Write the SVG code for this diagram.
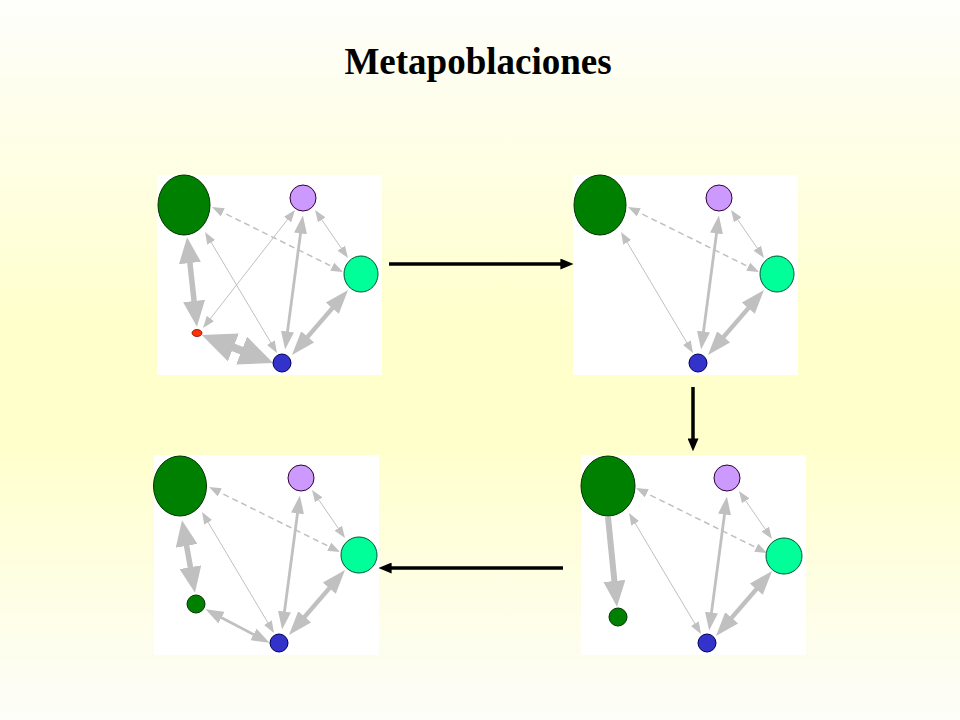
<svg xmlns="http://www.w3.org/2000/svg" width="960" height="720" viewBox="0 0 960 720">
<defs>
<linearGradient id="bg" x1="0" y1="0" x2="0" y2="1">
<stop offset="0" stop-color="#fefefc"/>
<stop offset="0.45" stop-color="#ffffcc"/>
<stop offset="0.62" stop-color="#ffffcc"/>
<stop offset="1" stop-color="#fdfdfa"/>
</linearGradient>
<marker id="ms" viewBox="0 0 10 10" refX="5" refY="5" markerUnits="userSpaceOnUse" markerWidth="12" markerHeight="9" preserveAspectRatio="none" orient="auto-start-reverse"><path d="M0,0 L10,5 L0,10 z" fill="#c0c0c0"/></marker>
<marker id="mm" viewBox="0 0 10 10" refX="5" refY="5" markerUnits="userSpaceOnUse" markerWidth="18" markerHeight="13" preserveAspectRatio="none" orient="auto-start-reverse"><path d="M0,0 L10,5 L0,10 z" fill="#c0c0c0"/></marker>
<marker id="ml" viewBox="0 0 10 10" refX="5" refY="5" markerUnits="userSpaceOnUse" markerWidth="24" markerHeight="17" preserveAspectRatio="none" orient="auto-start-reverse"><path d="M0,0 L10,5 L0,10 z" fill="#c0c0c0"/></marker>
<marker id="mx" viewBox="0 0 10 10" refX="5" refY="5" markerUnits="userSpaceOnUse" markerWidth="26" markerHeight="22" preserveAspectRatio="none" orient="auto-start-reverse"><path d="M0,0 L10,5 L0,10 z" fill="#c0c0c0"/></marker>
<marker id="mxx" viewBox="0 0 10 10" refX="5" refY="5" markerUnits="userSpaceOnUse" markerWidth="34" markerHeight="30" preserveAspectRatio="none" orient="auto-start-reverse"><path d="M0,0 L10,5 L0,10 z" fill="#c0c0c0"/></marker>
<marker id="mb" viewBox="0 0 10 10" refX="2" refY="5" markerUnits="userSpaceOnUse" markerWidth="13" markerHeight="11" preserveAspectRatio="none" orient="auto"><path d="M0,0 L10,5 L0,10 z" fill="#000"/></marker>
</defs>
<style>
.panel{fill:#ffffff;}
.e{stroke:#c0c0c0;fill:none;}
.s{stroke-width:1;marker-start:url(#ms);marker-end:url(#ms);}
.d{stroke-width:1.5;stroke-dasharray:6,4;marker-start:url(#ms);marker-end:url(#ms);}
.m{stroke-width:2.8;marker-start:url(#mm);marker-end:url(#mm);}
.l{stroke-width:4.5;marker-start:url(#ml);marker-end:url(#ml);}
.x{stroke-width:5.5;marker-start:url(#mx);marker-end:url(#mx);}
.xx{stroke-width:8;marker-start:url(#mxx);marker-end:url(#mxx);}
.one{stroke-width:6;marker-end:url(#mx);}
.big{fill:#008000;stroke:#003300;stroke-width:1;}
.pur{fill:#cc99ff;stroke:#330033;stroke-width:1;}
.teal{fill:#00ff99;stroke:#005533;stroke-width:1;}
.blue{fill:#3333cc;stroke:#000055;stroke-width:1;}
.red{fill:#ff3300;stroke:#880000;stroke-width:0.8;}
.sg{fill:#008000;stroke:#003300;stroke-width:1;}
.flow{stroke:#000;stroke-width:3.5;marker-end:url(#mb);fill:none;}
.title{font-family:"Liberation Serif","Times New Roman",serif;font-weight:bold;font-size:37px;fill:#000;}
</style>
<rect x="0" y="0" width="960" height="720" fill="url(#bg)"/>
<text class="title" x="478" y="74" text-anchor="middle">Metapoblaciones</text>

<g id="panel1">
<rect class="panel" x="157" y="175" width="225" height="200"/>
<g id="p1-connectors">
<line class="e d" x1="217.4" y1="209.7" x2="337.6" y2="269.3"/>
<line class="e s" x1="208.1" y1="237.2" x2="273.9" y2="347.8"/>
<line class="e s" x1="291.3" y1="214.7" x2="206.7" y2="323.3"/>
<line class="e s" x1="318.4" y1="214.9" x2="344.6" y2="253.1"/>
<line class="e m" x1="301.7" y1="224.5" x2="286.3" y2="340.5"/>
<line class="e l" x1="340.2" y1="299.1" x2="299.8" y2="345.9"/>
<line class="e x" x1="188.5" y1="250.1" x2="195.5" y2="313.9"/>
<line class="e xx" x1="217.6" y1="341.2" x2="257.4" y2="356.8"/>
</g>
<g id="p1-big"><ellipse class="big" cx="184" cy="205" rx="26" ry="30"/></g>
<g id="p1-purple"><circle class="pur" cx="303" cy="198" r="13"/></g>
<g id="p1-teal"><ellipse class="teal" cx="361" cy="274" rx="17" ry="18"/></g>
<g id="p1-red"><ellipse class="red" cx="197" cy="333" rx="5" ry="3.5"/></g>
<g id="p1-blue"><circle class="blue" cx="282" cy="363" r="9"/></g>
</g>

<g id="panel2" transform="translate(416,0)">
<rect class="panel" x="157" y="175" width="225" height="200"/>
<g id="p2-connectors">
<line class="e d" x1="217.4" y1="209.7" x2="337.6" y2="269.3"/>
<line class="e s" x1="208.1" y1="237.2" x2="273.9" y2="347.8"/>
<line class="e s" x1="318.4" y1="214.9" x2="344.6" y2="253.1"/>
<line class="e m" x1="301.7" y1="224.5" x2="286.3" y2="340.5"/>
<line class="e l" x1="340.2" y1="299.1" x2="299.8" y2="345.9"/>
</g>
<g id="p2-big"><ellipse class="big" cx="184" cy="205" rx="26" ry="30"/></g>
<g id="p2-purple"><circle class="pur" cx="303" cy="198" r="13"/></g>
<g id="p2-teal"><ellipse class="teal" cx="361" cy="274" rx="17" ry="18"/></g>
<g id="p2-blue"><circle class="blue" cx="282" cy="363" r="9"/></g>
</g>

<g id="panel3" transform="translate(-3,280)">
<rect class="panel" x="157" y="175" width="225" height="200"/>
<g id="p3-connectors">
<line class="e d" x1="217.4" y1="209.7" x2="337.6" y2="269.3"/>
<line class="e s" x1="208.1" y1="237.2" x2="273.9" y2="347.8"/>
<line class="e s" x1="318.4" y1="214.9" x2="344.6" y2="253.1"/>
<line class="e m" x1="301.7" y1="224.5" x2="286.3" y2="340.5"/>
<line class="e l" x1="340.2" y1="299.1" x2="299.8" y2="345.9"/>
<line class="e x" x1="187.3" y1="253" x2="195.7" y2="300"/>
<line class="e m" x1="216.5" y1="333.4" x2="264.5" y2="358.6"/>
</g>
<g id="p3-big"><ellipse class="big" cx="183" cy="206" rx="26.5" ry="30"/></g>
<g id="p3-purple"><circle class="pur" cx="304" cy="198" r="13"/></g>
<g id="p3-teal"><ellipse class="teal" cx="362" cy="275" rx="18" ry="18"/></g>
<g id="p3-small"><circle class="sg" cx="199" cy="324" r="9"/></g>
<g id="p3-blue"><circle class="blue" cx="282" cy="363" r="9"/></g>
</g>

<g id="panel4" transform="translate(424,281)">
<rect class="panel" x="157" y="174" width="225" height="200"/>
<g id="p4-connectors">
<line class="e d" x1="217.4" y1="209.7" x2="337.6" y2="269.3"/>
<line class="e s" x1="208.1" y1="237.2" x2="273.9" y2="347.8"/>
<line class="e s" x1="318.4" y1="214.9" x2="344.6" y2="253.1"/>
<line class="e m" x1="301.7" y1="224.5" x2="286.3" y2="340.5"/>
<line class="e l" x1="340.2" y1="299.1" x2="299.8" y2="345.9"/>
<line class="e one" x1="184" y1="236" x2="191.7" y2="312.9"/>
</g>
<g id="p4-big"><ellipse class="big" cx="184" cy="205" rx="27" ry="30"/></g>
<g id="p4-purple"><circle class="pur" cx="303" cy="197" r="13"/></g>
<g id="p4-teal"><ellipse class="teal" cx="360" cy="275" rx="18" ry="18"/></g>
<g id="p4-small"><circle class="sg" cx="194" cy="336" r="9"/></g>
<g id="p4-blue"><circle class="blue" cx="283" cy="362" r="9"/></g>
</g>

<g id="flow-connectors">
<line class="flow" x1="389" y1="264" x2="563" y2="264"/>
<line class="flow" x1="693" y1="387" x2="693" y2="441"/>
<line class="flow" x1="563" y1="568" x2="389" y2="568"/>
</g>
</svg>
